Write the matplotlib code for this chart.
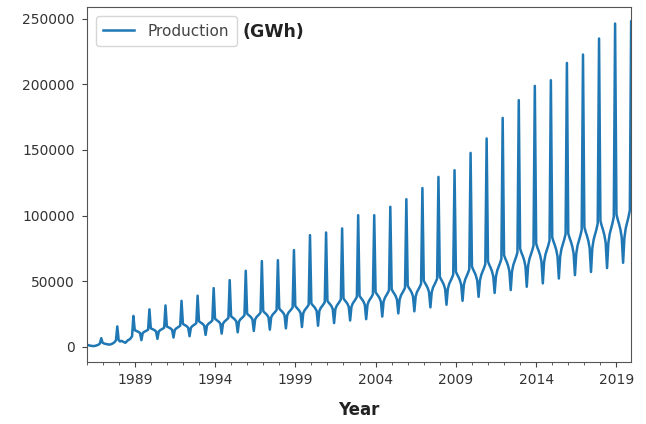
import matplotlib
matplotlib.use("Agg")
import matplotlib.pyplot as plt
import matplotlib.dates as mdates
import numpy as np
import pandas as pd

# Monthly production (GWh), Jan..Dec for each year
years = list(range(1986, 2020))
production_by_year = {
    1986: [1500, 1300, 1000, 800, 600, 500, 600, 800, 1200, 1600, 2500, 6500],
    1987: [3000, 2500, 2200, 2000, 1800, 1600, 1800, 2200, 2800, 3500, 5000, 15500],
    1988: [5000, 4000, 4500, 4000, 3500, 3000, 4000, 5000, 5500, 6500, 8000, 23500],
    1989: [12600, 12100, 11700, 11200, 10400, 5000, 10400, 11300, 11800, 12400, 13000, 28500],
    1990: [14100, 13500, 13100, 12500, 11600, 6000, 11600, 12600, 13200, 13800, 14500, 31500],
    1991: [15500, 14900, 14400, 13800, 12800, 7000, 12800, 13900, 14600, 15200, 16000, 35000],
    1992: [17500, 16700, 16200, 15500, 14400, 8000, 14400, 15700, 16400, 17100, 18000, 38900],
    1993: [19400, 18600, 18000, 17200, 16000, 9000, 16000, 17400, 18200, 19000, 20000, 44700],
    1994: [21300, 20500, 19800, 18900, 17600, 10000, 17600, 19100, 20000, 20900, 22000, 50800],
    1995: [23300, 22300, 21600, 20600, 19200, 11000, 19200, 20900, 21800, 22800, 24000, 57900],
    1996: [25200, 24200, 23400, 22400, 20800, 12000, 20800, 22600, 23700, 24700, 26000, 65300],
    1997: [27200, 26000, 25200, 24100, 22400, 13000, 22400, 24400, 25500, 26600, 28000, 66000],
    1998: [29100, 27900, 27000, 25800, 24000, 14000, 24000, 26100, 27300, 28500, 30000, 73700],
    1999: [31000, 29800, 28800, 27500, 25600, 15000, 25600, 27800, 29100, 30400, 32000, 85100],
    2000: [33000, 31600, 30600, 29200, 27200, 16000, 27200, 29600, 30900, 32300, 34000, 87100],
    2001: [34900, 33500, 32400, 31000, 28800, 18000, 28800, 31300, 32800, 34200, 36000, 90200],
    2002: [36900, 35300, 34200, 32700, 30400, 20000, 30400, 33100, 34600, 36100, 38000, 100300],
    2003: [38800, 37200, 36000, 34400, 32000, 21000, 32000, 34800, 36400, 38000, 40000, 100300],
    2004: [41700, 40000, 38700, 37000, 34400, 23000, 34400, 37400, 39100, 40900, 43000, 106700],
    2005: [43700, 41900, 40500, 38700, 36000, 25400, 36000, 39200, 41000, 42800, 45000, 112500],
    2006: [46600, 44600, 43200, 41300, 38400, 27000, 38400, 41800, 43700, 45600, 48000, 121000],
    2007: [50400, 48400, 46800, 44700, 41600, 30000, 41600, 45200, 47300, 49400, 52000, 129500],
    2008: [53400, 51200, 49500, 47300, 44000, 32000, 44000, 47900, 50100, 52300, 55000, 134600],
    2009: [57200, 54900, 53100, 50700, 47200, 35000, 47200, 51300, 53700, 56100, 59000, 147800],
    2010: [61100, 58600, 56700, 54200, 50400, 38000, 50400, 54800, 57300, 59900, 63000, 158800],
    2011: [65000, 62300, 60300, 57600, 53600, 41000, 53600, 58300, 61000, 63700, 67000, 174500],
    2012: [69800, 67000, 64800, 61900, 57600, 43200, 57600, 62600, 65500, 68400, 72000, 188000],
    2013: [74700, 71600, 69300, 66200, 61600, 45700, 61600, 67000, 70100, 73200, 77000, 198900],
    2014: [78600, 75300, 72900, 69700, 64800, 48300, 64800, 70500, 73700, 77000, 81000, 203200],
    2015: [83400, 80000, 77400, 74000, 68800, 52000, 68800, 74800, 78300, 81700, 86000, 216400],
    2016: [86300, 82800, 80100, 76500, 71200, 54600, 71200, 77400, 81000, 84600, 89000, 222800],
    2017: [91200, 87400, 84600, 80800, 75200, 57000, 75200, 81800, 85500, 89300, 94000, 235000],
    2018: [96000, 92100, 89100, 85100, 79200, 60000, 79200, 86100, 90100, 94000, 99000, 246400],
    2019: [100900, 96700, 93600, 89400, 83200, 64000, 83200, 90500, 94600, 98800, 104000, 248000],
}
yticks = [0, 50000, 100000, 150000, 200000, 250000]
xtick_years = [1989, 1994, 1999, 2004, 2009, 2014, 2019]

values = [v for y in years for v in production_by_year[y]]
dates = pd.date_range(f"{years[0]}-01-01", periods=len(values), freq="MS")

fig = plt.figure(figsize=(6.46, 4.24), dpi=100)
ax = fig.add_axes([0.134, 0.147, 0.843, 0.837])
ax.plot(dates, values, color="#1f77b4", linewidth=1.8, label="Production")

ax.set_xlim(dates[0], dates[-1])
ax.set_ylim(-11400, 259200)
ax.set_yticks(yticks)
ax.set_yticklabels([str(t) for t in yticks])
ax.set_xticks([pd.Timestamp(f"{y}-01-01") for y in xtick_years])
ax.set_xticklabels([str(y) for y in xtick_years])
ax.xaxis.set_minor_locator(mdates.YearLocator(1))
ax.tick_params(axis="both", labelsize=10, colors="#444444", labelcolor="#333333", pad=5)
ax.tick_params(axis="x", which="minor", length=2, colors="#444444")
for s in ax.spines.values():
    s.set_color("#555555")

ax.set_xlabel("Year", fontsize=12, fontweight="bold", labelpad=10, color="#222222")
leg = ax.legend(loc="upper left", fontsize=11, frameon=True, borderaxespad=0.6,
                borderpad=0.5, handletextpad=0.9)
for t in leg.get_texts():
    t.set_color("#444444")
fig.text(243 / 646, 1 - 31.7 / 424, "(GWh)", fontsize=12.5, fontweight="bold",
         va="center", ha="left", color="#222222")

fig.savefig("out.png", dpi=100)
